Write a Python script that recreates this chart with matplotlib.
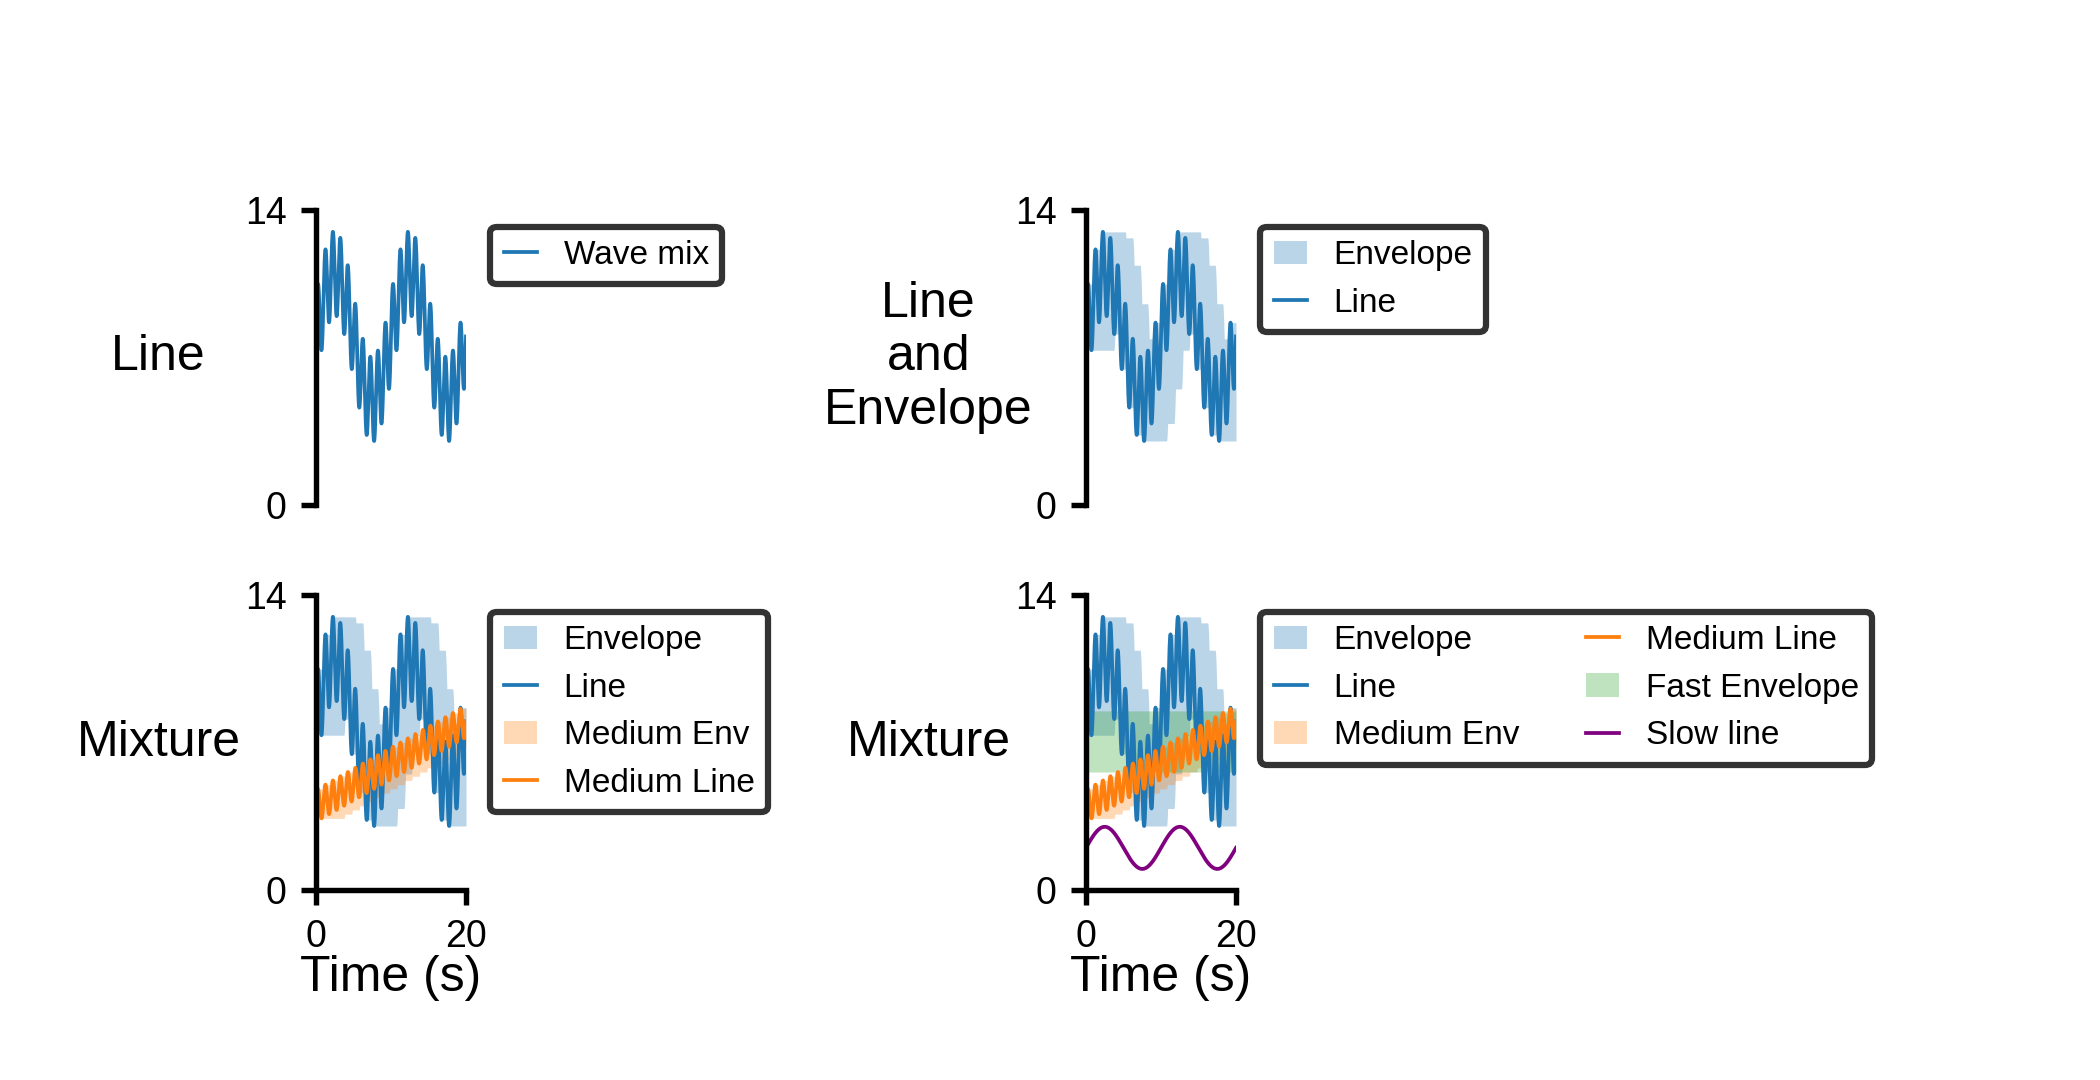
import numpy as np
import pandas as pd
import matplotlib
matplotlib.use('Agg')
import matplotlib.pyplot as plt

plt.rcParams['font.family'] = ['Liberation Sans', 'DejaVu Sans']

# time axis (s)
t_end = 20.0
n_points = 2001

# "Wave mix" / "Line" (blue): level + slow wave + fast wave
wave_level = 8.0
wave_amps = [3.0, 2.0]       # slow, fast
wave_periods = [10.0, 1.0]   # s

# "Medium Line" (orange): ramp + ripple
medium_ramp = [4.0, 0.2]     # value at t=0, slope per s
medium_amp = 0.75
medium_period = 1.0

# "Slow line" (purple)
slow_level = 2.0
slow_amp = 1.0
slow_period = 10.0

# "Fast Envelope" (green) band, low / high
fast_band = [5.6, 8.5]

# envelopes are a trailing min/max over this many seconds
env_window = 3.0

row_labels = ['Line', 'Line\nand\nEnvelope', 'Mixture', 'Mixture']
y_ticks = [0, 14]
x_ticks = [0, 20]


t = np.linspace(0, t_end, n_points)
dt = t[1] - t[0]
line = wave_level + sum(a * np.sin(2 * np.pi * t / p) for a, p in zip(wave_amps, wave_periods))
medium = medium_ramp[0] + medium_ramp[1] * t + medium_amp * np.sin(2 * np.pi * t / medium_period)
slow = slow_level + slow_amp * np.sin(2 * np.pi * t / slow_period)

def envelope(y):
    w = int(round(env_window / dt))
    s = pd.Series(y)
    return s.rolling(w, min_periods=1).min().values, s.rolling(w, min_periods=1).max().values

env_lo, env_hi = envelope(line)
med_lo, med_hi = envelope(medium)
fast_lo = np.full_like(t, fast_band[0])
fast_hi = np.full_like(t, fast_band[1])

W, H = 2100, 1080
fig = plt.figure(figsize=(7, 3.6), dpi=300)
ax_w, ax_h = 150, 295
corners = [(316, 210), (1086, 210), (316, 595), (1086, 595)]
axes = [fig.add_axes([x / W, 1 - (y + ax_h) / H, ax_w / W, ax_h / H]) for x, y in corners]

def style(ax, label, bottom):
    ax.set_xlim(0, t_end)
    ax.set_ylim(y_ticks[0], y_ticks[-1])
    ax.set_yticks(y_ticks)
    ax.spines['top'].set_visible(False)
    ax.spines['right'].set_visible(False)
    for s in ax.spines.values():
        s.set_linewidth(1.3)
    ax.tick_params(width=1.3, length=3.5, labelsize=9)
    if bottom:
        ax.set_xticks(x_ticks)
        ax.set_xlabel('Time (s)', fontsize=12, labelpad=0)
    else:
        ax.spines['bottom'].set_visible(False)
        ax.set_xticks([])
    ax.set_ylabel(label, rotation=0, ha='center', va='center', fontsize=12)
    ax.yaxis.set_label_coords(-1.05, 0.5)

def add_legend(ax, ncol=1):
    leg = ax.legend(loc='upper left', bbox_to_anchor=(1.05, 1.0), fontsize=8,
                    handlelength=1.0, ncol=ncol, framealpha=1)
    leg.get_frame().set_edgecolor('0.2')
    leg.get_frame().set_linewidth(1.5)

lw = 0.9

ax = axes[0]
ax.plot(t, line, color='C0', lw=lw, label='Wave mix')
style(ax, row_labels[0], False)
add_legend(ax)

ax = axes[1]
ax.fill_between(t, env_lo, env_hi, color='C0', alpha=0.3, lw=0, label='Envelope')
ax.plot(t, line, color='C0', lw=lw, label='Line')
style(ax, row_labels[1], False)
add_legend(ax)

for i in (2, 3):
    ax = axes[i]
    ax.fill_between(t, env_lo, env_hi, color='C0', alpha=0.3, lw=0, label='Envelope')
    ax.plot(t, line, color='C0', lw=lw, label='Line')
    ax.fill_between(t, med_lo, med_hi, color='C1', alpha=0.3, lw=0, label='Medium Env')
    ax.plot(t, medium, color='C1', lw=lw, label='Medium Line')
    if i == 3:
        ax.fill_between(t, fast_lo, fast_hi, color='C2', alpha=0.3, lw=0, label='Fast Envelope')
        ax.plot(t, slow, color='purple', lw=lw, label='Slow line')
    style(ax, row_labels[i], True)
    add_legend(ax, ncol=2 if i == 3 else 1)

fig.savefig('out.png', dpi=300)
